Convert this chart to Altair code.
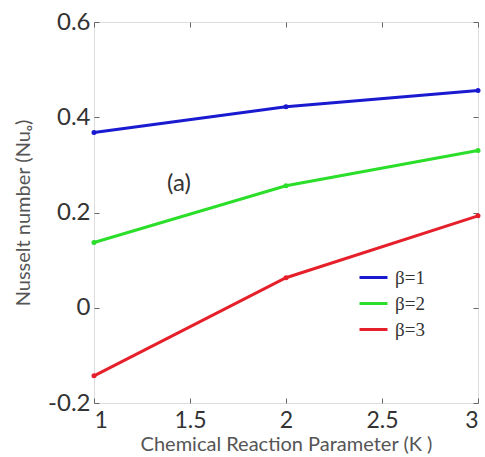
import altair as alt
import pandas as pd

K = [1, 2, 3]
beta1 = [0.368, 0.422, 0.456]
beta2 = [0.137, 0.256, 0.330]
beta3 = [-0.143, 0.063, 0.193]
series = ["β=1", "β=2", "β=3"]
colors = ["#1a1ad0", "#2ade2a", "#e6202a"]
xticks = [1, 1.5, 2, 2.5, 3]
yticks = [-0.2, 0, 0.2, 0.4, 0.6]

rows = []
for name, vals in zip(series, [beta1, beta2, beta3]):
    for k, v in zip(K, vals):
        rows.append({"K": k, "Nu": v, "series": name})
df = pd.DataFrame(rows)

label_df = pd.DataFrame({"K": [1.443], "Nu": [0.26], "txt": ["(a)"]})

W, H = 384, 381
xscale = alt.Scale(domain=[1, 3], nice=False)
yscale = alt.Scale(domain=[-0.2, 0.6], nice=False)
cscale = alt.Scale(domain=series, range=colors)
color = alt.Color("series:N", scale=cscale,
                  legend=alt.Legend(title=None, orient="none", legendX=264, legendY=240,
                                    symbolType="stroke", symbolSize=784, symbolStrokeWidth=3,
                                    labelFont="Liberation Serif", labelFontSize=19,
                                    labelColor="#333", rowPadding=0, labelOffset=6))

xaxis = alt.Axis(values=xticks, labelExpr="datum.value", labelFont="Lato",
                 labelFontSize=23, labelColor="#333", title="Chemical Reaction Parameter (K )",
                 titleFont="Lato", titleFontSize=20, titleFontWeight="normal", titleColor="#555",
                 titlePadding=2, ticks=False, domain=False, grid=False, labelPadding=6)
yaxis = alt.Axis(values=yticks, labelExpr="datum.value", labelFont="Lato",
                 labelFontSize=24, labelColor="#333", title="Nusselt number (Nuₒ)",
                 titleFont="Lato", titleFontSize=20, titleFontWeight="normal", titleColor="#555",
                 titlePadding=14, ticks=False, domain=False, grid=False, labelPadding=4)

def tick_axis(vals, orient, offset):
    return alt.Axis(values=vals, orient=orient, offset=offset, labels=False, title=None,
                    ticks=True, tickSize=5, tickColor="#666", tickWidth=1,
                    domain=False, grid=False)

base = alt.Chart(df)
lines = base.mark_line(strokeWidth=3).encode(
    x=alt.X("K:Q", scale=xscale, axis=xaxis),
    y=alt.Y("Nu:Q", scale=yscale, axis=yaxis),
    color=color,
)
pts = base.mark_point(filled=True, size=25, opacity=1).encode(
    x=alt.X("K:Q", scale=xscale, axis=tick_axis(xticks, "top", -H)),
    y=alt.Y("Nu:Q", scale=yscale, axis=tick_axis(yticks, "right", -W)),
    color=alt.Color("series:N", scale=cscale, legend=None),
)
txt = alt.Chart(label_df).mark_text(font="Lato", fontSize=24, color="#333").encode(
    x=alt.X("K:Q", scale=xscale, axis=tick_axis(xticks, "bottom", -H)),
    y=alt.Y("Nu:Q", scale=yscale, axis=tick_axis(yticks, "left", -W)),
    text="txt:N",
)

chart = alt.layer(lines, pts, txt).resolve_axis(x="independent", y="independent").properties(
    width=W, height=H,
    autosize=alt.AutoSizeParams(type="none"),
    padding={"left": 94, "top": 22, "right": 7, "bottom": 54},
).configure_view(stroke="#777", strokeWidth=1).configure(background="white")

chart.save("out.html", embed_options={"renderer": "svg", "actions": False})
